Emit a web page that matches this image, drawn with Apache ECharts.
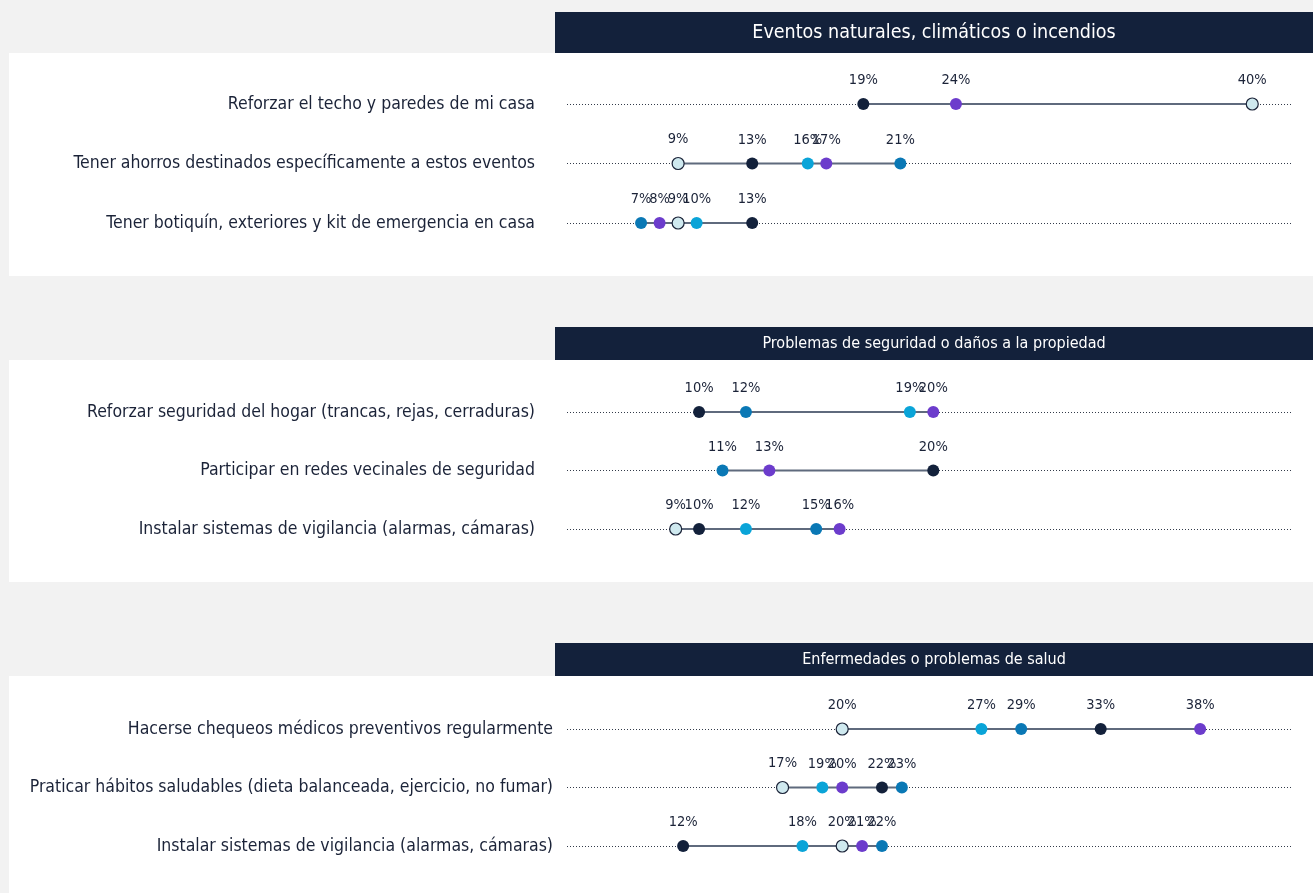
<!DOCTYPE html>
<html>
  <head>
    <meta charset="utf-8" />
    <title>ECharts</title>
    <style type="text/css">
      html, body { margin: 0; padding: 0; background: #f2f2f2; }
      #main { width: 1313px; height: 893px; }
    </style>
    <script type="text/javascript" src="https://cdn.jsdelivr.net/npm/echarts@6.0.0/dist/echarts.min.js"></script>
  </head>
  <body>
    <div id="main"></div>
    <script type="text/javascript">
    // datos
    var seriesNames = ['Serie azul oscuro', 'Serie morada', 'Serie celeste', 'Serie cian', 'Serie azul'];
    var seriesColors = ['#13213b', '#6c3ccc', '#cfe9ef', '#0aa4d8', '#0a78b5'];

    var tituloEventos = 'Eventos naturales, climáticos o incendios';
    var catEventos = [
      'Reforzar el techo y paredes de mi casa',
      'Tener ahorros destinados específicamente a estos eventos',
      'Tener botiquín, exteriores y kit de emergencia en casa'
    ];
    // una fila por serie, una columna por categoría
    var valoresEventos = [
      [19, 13, 13],
      [24, 17, 8],
      [40, 9, 9],
      [null, 16, 10],
      [null, 21, 7]
    ];

    var tituloSeguridad = 'Problemas de seguridad o daños a la propiedad';
    var catSeguridad = [
      'Reforzar seguridad del hogar (trancas, rejas, cerraduras)',
      'Participar en redes vecinales de seguridad',
      'Instalar sistemas de vigilancia (alarmas, cámaras)'
    ];
    var valoresSeguridad = [
      [10, 20, 10],
      [20, 13, 16],
      [null, null, 9],
      [19, null, 12],
      [12, 11, 15]
    ];

    var tituloSalud = 'Enfermedades o problemas de salud';
    var catSalud = [
      'Hacerse chequeos médicos preventivos regularmente',
      'Praticar hábitos saludables (dieta balanceada, ejercicio, no fumar)',
      'Instalar sistemas de vigilancia (alarmas, cámaras)'
    ];
    var valoresSalud = [
      [33, 22, 12],
      [38, 20, 21],
      [20, 17, 20],
      [27, 19, 18],
      [29, 23, 22]
    ];

    var FONT = "'Liberation Sans Narrow', 'DejaVu Sans Condensed', sans-serif";
    var TEXT = '#1b2338';

    var panels = [
      { title: tituloEventos, cats: catEventos, vals: valoresEventos, top: 104, height: 119, min: 3.0, max: 42.2,
        bgY: 53, bgH: 223, hY: 12, hH: 41, tSize: 19.5, labelMargin: 32 },
      { title: tituloSeguridad, cats: catSeguridad, vals: valoresSeguridad, top: 412, height: 117, min: 4.36, max: 35.36,
        bgY: 360, bgH: 222, hY: 327, hH: 33, tSize: 16, labelMargin: 32 },
      { title: tituloSalud, cats: catSalud, vals: valoresSalud, top: 729, height: 117, min: 6.16, max: 42.67,
        bgY: 676, bgH: 217, hY: 643, hH: 33, tSize: 16, labelMargin: 14 }
    ];

    var grids = [], xAxes = [], yAxes = [], series = [], graphics = [];

    panels.forEach(function (p, i) {
      graphics.push({ type: 'rect', z: -10, shape: { x: 9, y: p.bgY, width: 1304, height: p.bgH }, style: { fill: '#ffffff' } });
      graphics.push({ type: 'rect', z: -10, shape: { x: 555, y: p.hY, width: 758, height: p.hH }, style: { fill: '#13213b' } });
      graphics.push({ type: 'text', z: -9, x: 934, y: p.hY + p.hH / 2,
        style: { text: p.title, fill: '#ffffff', font: p.tSize + 'px ' + FONT, textAlign: 'center', textVerticalAlign: 'middle' } });

      grids.push({ left: 567, right: 20, top: p.top, height: p.height, outerBoundsMode: 'none', containLabel: false });
      xAxes.push({ type: 'value', gridIndex: i, min: p.min, max: p.max, show: false });
      yAxes.push({
        type: 'category', gridIndex: i, data: p.cats, inverse: true, boundaryGap: false,
        axisLine: { show: false }, axisTick: { show: false },
        axisLabel: { color: TEXT, fontSize: 17.5, fontFamily: FONT, margin: p.labelMargin },
        splitLine: { show: true, lineStyle: { color: '#333b4a', width: 1, type: [1, 2] } }
      });

      // rango min-max por fila
      var ranges = p.cats.map(function (c, r) {
        var vs = p.vals.map(function (s) { return s[r]; }).filter(function (v) { return v != null; });
        return [r, Math.min.apply(null, vs), Math.max.apply(null, vs)];
      });
      series.push({
        type: 'custom', xAxisIndex: i, yAxisIndex: i, z: 2, silent: true,
        encode: { x: [1, 2], y: 0 },
        data: ranges,
        renderItem: function (params, api) {
          var a = api.coord([api.value(1), api.value(0)]);
          var b = api.coord([api.value(2), api.value(0)]);
          return { type: 'line', shape: { x1: a[0], y1: a[1], x2: b[0], y2: b[1] },
            style: { stroke: '#5f6a7d', lineWidth: 2 } };
        }
      });

      p.vals.forEach(function (vals, s) {
        var data = [];
        vals.forEach(function (v, r) { if (v != null) data.push([v, r]); });
        series.push({
          name: seriesNames[s], type: 'scatter', xAxisIndex: i, yAxisIndex: i, z: 3,
          symbolSize: 12, data: data,
          itemStyle: s === 2 ? { color: seriesColors[s], borderColor: TEXT, borderWidth: 1.2, opacity: 1 }
                             : { color: seriesColors[s], opacity: 1 },
          label: { show: true, position: 'top', distance: 10, color: TEXT, fontSize: 14.5, fontFamily: FONT,
            formatter: function (d) { return d.value[0] + '%'; } }
        });
      });
    });

    var myChart = echarts.init(document.getElementById('main'));
    var option = {
      backgroundColor: '#f2f2f2',
      animation: false,
      graphic: graphics,
      grid: grids,
      xAxis: xAxes,
      yAxis: yAxes,
      series: series
    };
    myChart.setOption(option);
    </script>
  </body>
</html>
